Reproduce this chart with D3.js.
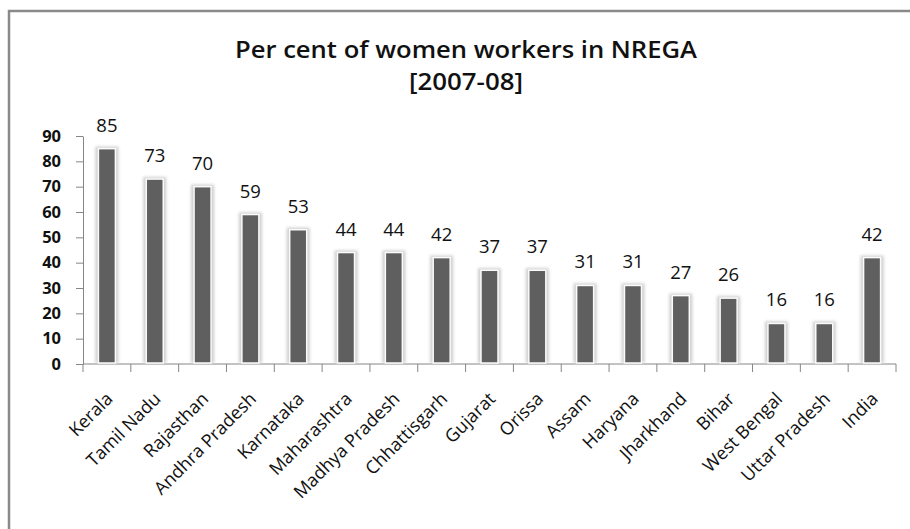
<!DOCTYPE html>
<html>
<head>
<meta charset="utf-8">
<script src="https://cdn.jsdelivr.net/npm/d3@7"></script>
<style>
  body { margin: 0; background: #fff; }
  svg { display: block; font-family: 'Open Sans', sans-serif; }
  .axis line, .axis path { stroke: #868686; }
</style>
</head>
<body>
<svg width="910" height="529"></svg>
<script>
(function (d3) {
  'use strict';

  const states = ['Kerala', 'Tamil Nadu', 'Rajasthan', 'Andhra Pradesh', 'Karnataka',
    'Maharashtra', 'Madhya Pradesh', 'Chhattisgarh', 'Gujarat', 'Orissa', 'Assam',
    'Haryana', 'Jharkhand', 'Bihar', 'West Bengal', 'Uttar Pradesh', 'India'];
  const womenShare = [85, 73, 70, 59, 53, 44, 44, 42, 37, 37, 31, 31, 27, 26, 16, 16, 42];
  const yTicks = [0, 10, 20, 30, 40, 50, 60, 70, 80, 90];
  const titleLines = ['Per cent of women workers in NREGA', '[2007-08]'];

  const svg = d3.select('svg');

  const M = { left: 83, right: 896, top: 136, bottom: 364 };

  // frame of the chart (right and bottom edges fall outside the picture)
  svg.append('rect')
    .attr('x', 9).attr('y', 11)
    .attr('width', 1000).attr('height', 700)
    .attr('fill', 'none')
    .attr('stroke', '#8a8a8a')
    .attr('stroke-width', 2.5);

  const defs = svg.append('defs');
  defs.append('filter').attr('id', 'glow')
    .attr('x', '-50%').attr('y', '-50%').attr('width', '200%').attr('height', '200%')
    .append('feGaussianBlur').attr('stdDeviation', 1.6);

  const x = d3.scaleBand().domain(states).range([M.left, M.right]).padding(0);
  const y = d3.scaleLinear().domain([0, 90]).range([M.bottom, M.top]);

  // title
  const title = svg.append('text')
    .attr('text-anchor', 'middle')
    .attr('font-size', 23)
    .attr('font-weight', 600)
    .attr('fill', '#111');
  title.selectAll('tspan').data(titleLines).enter().append('tspan')
    .attr('x', 466)
    .attr('y', (d, i) => 58 + i * 32)
    .attr('textLength', (d, i) => i === 0 ? 462 : 114)
    .attr('lengthAdjust', 'spacingAndGlyphs')
    .text(d => d);

  // y axis
  const yAxis = svg.append('g')
    .attr('class', 'axis')
    .attr('transform', `translate(${M.left},0)`)
    .call(d3.axisLeft(y).tickValues(yTicks).tickSize(7).tickPadding(15).tickSizeOuter(0));
  yAxis.select('.domain').attr('stroke', '#868686');
  yAxis.selectAll('text')
    .attr('font-family', "'Open Sans', sans-serif")
    .attr('font-size', 16.5)
    .attr('font-weight', 'bold')
    .attr('fill', '#111');

  // x axis: ticks at the band edges
  const xAxisG = svg.append('g').attr('class', 'axis');
  xAxisG.append('line')
    .attr('x1', M.left).attr('x2', M.right)
    .attr('y1', M.bottom).attr('y2', M.bottom)
    .attr('stroke', '#868686');
  const edges = states.map(s => x(s)).concat([M.right]);
  xAxisG.selectAll('line.tick').data(edges).enter().append('line')
    .attr('class', 'tick')
    .attr('x1', d => d).attr('x2', d => d)
    .attr('y1', M.bottom).attr('y2', M.bottom + 8)
    .attr('stroke', '#868686');

  const barW = 17;
  const cx = d => x(d) + x.bandwidth() / 2;
  const data = states.map((s, i) => ({ state: s, value: womenShare[i] }));

  // soft halo behind the bars
  svg.append('g').selectAll('rect').data(data).enter().append('rect')
    .attr('x', d => cx(d.state) - barW / 2 - 3)
    .attr('y', d => y(d.value) - 2)
    .attr('width', barW + 6)
    .attr('height', d => M.bottom - y(d.value) + 1)
    .attr('fill', '#cfcfcf')
    .attr('filter', 'url(#glow)');

  svg.append('g').selectAll('rect').data(data).enter().append('rect')
    .attr('x', d => cx(d.state) - barW / 2)
    .attr('y', d => y(d.value))
    .attr('width', barW)
    .attr('height', d => M.bottom - y(d.value) - 1)
    .attr('fill', '#5f5f5f')
    .attr('stroke', '#fbfbfb')
    .attr('stroke-width', 1.5);

  // value labels
  svg.append('g').selectAll('text').data(data).enter().append('text')
    .attr('x', d => cx(d.state))
    .attr('y', d => y(d.value) - 17)
    .attr('text-anchor', 'middle')
    .attr('font-size', 18.5)
    .attr('fill', '#111')
    .text(d => d.value);

  // category labels
  svg.append('g').selectAll('text').data(states).enter().append('text')
    .attr('transform', d => `translate(${cx(d) + 7},${M.bottom + 36}) rotate(-45)`)
    .attr('text-anchor', 'end')
    .attr('font-size', 18)
    .attr('fill', '#111')
    .text(d => d);

}(d3));
</script>
</body>
</html>
